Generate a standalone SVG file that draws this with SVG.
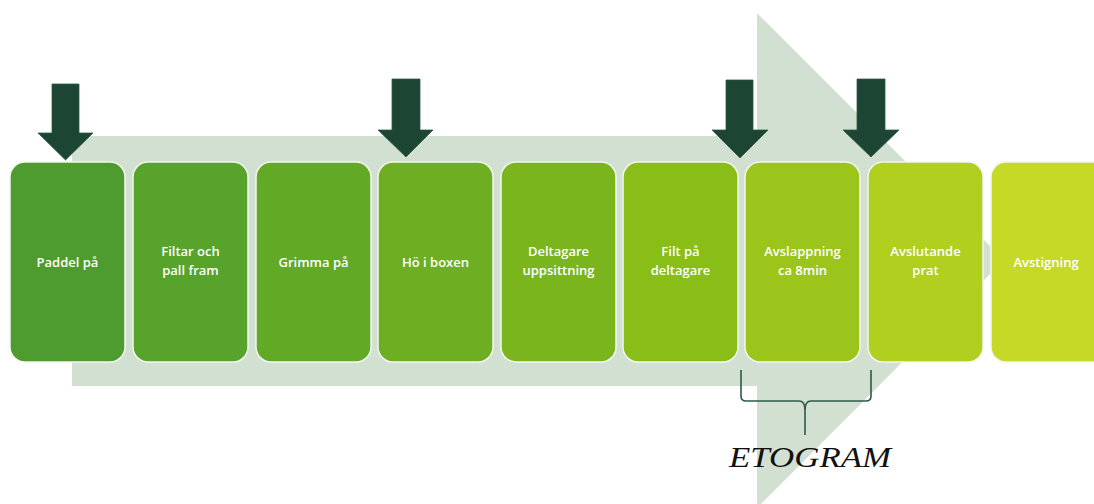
<svg xmlns="http://www.w3.org/2000/svg" width="1094" height="504" viewBox="0 0 1094 504">
<style>
.box{stroke:#f2f6ee;stroke-width:1.5}
.lbl{font-family:"Open Sans","Liberation Sans",sans-serif;font-size:13px;font-weight:600;fill:#ffffff;text-anchor:middle}
.dn{fill:#1c4633;stroke:#2f5a45;stroke-width:0.8}
.brace{fill:none;stroke:#2c5a48;stroke-width:1.6}
</style>
<rect width="1094" height="504" fill="#ffffff"/>
<g id="background-arrow">
<polygon points="72,136 757,136 757,13 1004,260 757,508 757,386 72,386" fill="#d1e0d0"/>
</g>
<g id="node-paddel"><rect class="box" x="10" y="162" width="115" height="200" rx="15" fill="#4e9c30"/><text class="lbl" x="67.5" y="266.5">Paddel på</text></g>
<g id="node-filtar"><rect class="box" x="133" y="162" width="115" height="200" rx="15" fill="#58a32b"/><text class="lbl" x="190.5" y="256">Filtar och</text><text class="lbl" x="190.5" y="275">pall fram</text></g>
<g id="node-grimma"><rect class="box" x="256" y="162" width="115" height="200" rx="15" fill="#62a926"/><text class="lbl" x="313.5" y="266.5">Grimma på</text></g>
<g id="node-ho"><rect class="box" x="378" y="162" width="115" height="200" rx="15" fill="#6dae22"/><text class="lbl" x="435.5" y="266.5">Hö i boxen</text></g>
<g id="node-deltagare"><rect class="box" x="501" y="162" width="115" height="200" rx="15" fill="#7ab51d"/><text class="lbl" x="558.5" y="256">Deltagare</text><text class="lbl" x="558.5" y="275">uppsittning</text></g>
<g id="node-filt"><rect class="box" x="623" y="162" width="115" height="200" rx="15" fill="#89bd18"/><text class="lbl" x="680.5" y="256">Filt på</text><text class="lbl" x="680.5" y="275">deltagare</text></g>
<g id="node-avslappning"><rect class="box" x="745" y="162" width="115" height="200" rx="15" fill="#9cc51b"/><text class="lbl" x="802.5" y="256">Avslappning</text><text class="lbl" x="802.5" y="275">ca 8min</text></g>
<g id="node-avslutande"><rect class="box" x="868" y="162" width="115" height="200" rx="15" fill="#b0cf1f"/><text class="lbl" x="925.5" y="256">Avslutande</text><text class="lbl" x="925.5" y="275">prat</text></g>
<g id="node-avstigning"><rect class="box" x="991" y="162" width="120" height="200" rx="15" fill="#c6d927"/><text class="lbl" x="1046" y="266.5">Avstigning</text></g>
<g id="connectors">
<polygon class="dn" points="52,84 79,84 79,133 93,133 65.5,160 38,133 52,133"/>
<polygon class="dn" points="392,79 420,79 420,130 433,130 406,157 378,130 392,130"/>
<polygon class="dn" points="726,80 753,80 753,130 768,130 740,158 712,130 726,130"/>
<polygon class="dn" points="857,79 885,79 885,130 899,130 871,157 843,130 857,130"/>
<path class="brace" d="M741,370 L741,396 Q741,401 746,401 L799,401 Q805,401 805,410 L805,435 M805,410 Q805,401 811,401 L866,401 Q871,401 871,396 L871,370"/>
</g>
<g id="label-etogram">
<text x="729" y="467" font-family="'Liberation Serif','Times New Roman',serif" font-style="italic" font-size="30" fill="#111111" textLength="162" lengthAdjust="spacingAndGlyphs">ETOGRAM</text>
</g>
</svg>
